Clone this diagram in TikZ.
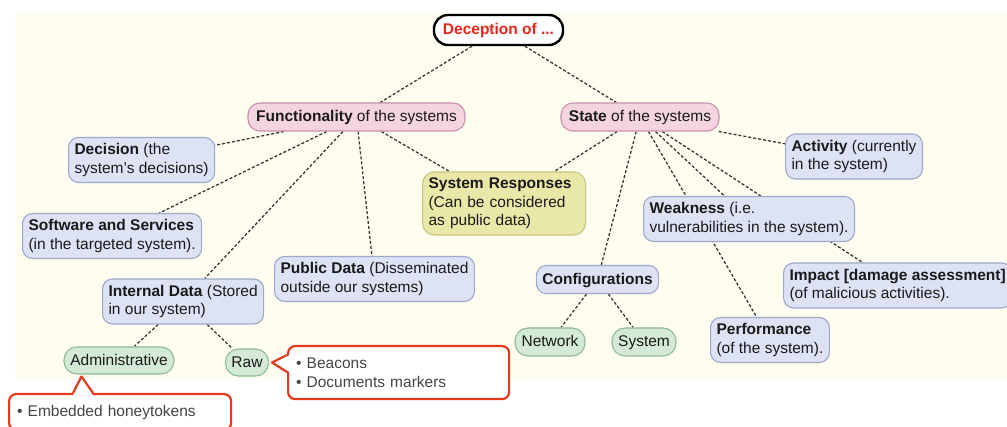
\documentclass[tikz,border=0pt]{standalone}
\usepackage{fontspec}
\setmainfont{Liberation Sans}
\usetikzlibrary{calc}

\definecolor{cream}{HTML}{FEFDEF}
\definecolor{pinkfill}{HTML}{F5D4E1}
\definecolor{pinkline}{HTML}{C98FA9}
\definecolor{bluefill}{HTML}{DDE3F5}
\definecolor{blueline}{HTML}{9DA8CB}
\definecolor{yelfill}{HTML}{EAE8A8}
\definecolor{yelline}{HTML}{C9C57E}
\definecolor{grnfill}{HTML}{D4EAD6}
\definecolor{grnline}{HTML}{8FBA96}
\definecolor{calloutred}{HTML}{E3391F}
\definecolor{titlered}{HTML}{E8261C}
\definecolor{dashgray}{HTML}{333333}
\definecolor{bodytext}{HTML}{1A1A1A}
\definecolor{notetext}{HTML}{454545}

\pgfdeclarelayer{bg}
\pgfdeclarelayer{links}
\pgfsetlayers{bg,links,main}

\begin{document}
\begin{tikzpicture}[x=1pt,y=-1pt,
  every node/.style={font=\fontsize{15.5}{18.5}\selectfont, text=bodytext},
  box/.style={draw, line width=1.1pt, rounded corners=10pt, align=left,
    inner xsep=6pt, inner ysep=6pt, minimum height=28pt},
  oneline/.style={text height=11.5pt, text depth=1.5pt},
  pinkbox/.style={box, oneline, fill=pinkfill, draw=pinkline, rounded corners=12pt},
  bluebox/.style={box, fill=bluefill, draw=blueline},
  yelbox/.style={box, fill=yelfill, draw=yelline, rounded corners=12pt},
  grnbox/.style={box, oneline, fill=grnfill, draw=grnline, rounded corners=13pt},
  rootbox/.style={oneline, draw=black, line width=2.4pt, fill=white, rounded corners=14pt,
    minimum width=129pt, minimum height=30pt, text=titlered,
    font=\fontsize{15.5}{18.5}\selectfont\bfseries},
  link/.style={draw=dashgray, line width=1.25pt, dash pattern=on 3pt off 2pt},
  note/.style={draw=calloutred, line width=2.2pt, fill=white, rounded corners=7pt,
    align=left, text=notetext, inner xsep=8pt, inner ysep=4pt},
  pointer/.style={draw=calloutred, line width=2.2pt, line join=round},
]
\useasboundingbox (0,0) rectangle (1007,427);
\clip (0,0) rectangle (1007,427);

% paper
\begin{pgfonlayer}{bg}
  \fill[cream] (15,12) rectangle (1007,378);
\end{pgfonlayer}

% root and the two main branches
\node[rootbox] (root) at (498.5,30) {Deception of ...};
\node[pinkbox, minimum width=217pt] (func) at (356.5,117) {\textbf{Functionality} of the systems};
\node[pinkbox, minimum width=158pt] (state) at (640,117) {\textbf{State} of the systems};

% functionality branch
\node[bluebox, anchor=west] (decision) at (68,160) {\textbf{Decision} (the\\system's decisions)};
\node[bluebox, anchor=west] (software) at (22,236) {\textbf{Software and Services}\\(in the targeted system).};
\node[yelbox, anchor=west, text width=151pt] (responses) at (422,203.5) {\textbf{System Responses}\\(Can be considered\\as public data)};
\node[bluebox, anchor=west] (public) at (274,279) {\textbf{Public Data} (Disseminated\\outside our systems)};
\node[bluebox, anchor=west] (internal) at (102,301.5) {\textbf{Internal Data} (Stored\\in our system)};
\node[grnbox, minimum width=110pt, minimum height=27pt] (admin) at (119,360.5) {Administrative};
\node[grnbox, minimum width=42pt, minimum height=27pt] (raw) at (247,362.5) {Raw};

% state branch
\node[bluebox, anchor=west] (activity) at (785,156.5) {\textbf{Activity} (currently\\in the system)};
\node[bluebox, anchor=west] (weakness) at (643,219) {\textbf{Weakness} (i.e.\\vulnerabilities in the system).};
\node[bluebox, oneline, minimum width=119pt, font=\fontsize{15.5}{18.5}\selectfont\bfseries] (config) at (597.5,279.5) {Configurations};
\node[bluebox, anchor=west] (impact) at (783,285.5) {\textbf{Impact [damage assessment]}\\(of malicious activities).};
\node[bluebox, anchor=west] (performance) at (710,340) {\textbf{Performance}\\(of the system).};
\node[grnbox, minimum width=70pt] (network) at (550,342) {Network};
\node[grnbox, minimum width=64pt] (system) at (644,342) {System};

% dashed links, behind the boxes
\begin{pgfonlayer}{links}
  \draw[link] (root) -- (func);
  \draw[link] (root) -- (state);
  \draw[link] (func) -- (decision);
  \draw[link] (func) -- (software);
  \draw[link] (func) -- (internal);
  \draw[link] (func) -- (public);
  \draw[link] (func) -- (responses);
  \draw[link] (state) -- (responses);
  \draw[link] (state) -- (config);
  \draw[link] (state) -- (weakness);
  \draw[link] (state) -- (performance);
  \draw[link] (state) -- (impact);
  \draw[link] (state) -- (activity);
  \draw[link] (internal) -- (admin);
  \draw[link] (internal) -- (raw);
  \draw[link] (config) -- (network);
  \draw[link] (config) -- (system);
\end{pgfonlayer}

% callout next to Raw
\node[note, anchor=north west, text width=205pt, minimum height=53pt] (beacons) at (287,345)
  {\textbullet\ Beacons\\\textbullet\ Documents markers};
\coordinate (btip) at ($(raw.east)+(3,0)$);
\coordinate (btop) at ($(beacons.north west)+(0,10)$);
\coordinate (bbot) at ($(beacons.north west)+(0,27)$);
\fill[white] ($(btop)+(2.5,0)$) -- (btip) -- ($(bbot)+(2.5,0)$) -- cycle;
\draw[pointer] (btop) -- (btip) -- (bbot);

% callout below Administrative
\node[note, anchor=north west, text width=206pt, minimum height=36pt] (honey) at (8,393)
  {\textbullet\ Embedded honeytokens};
\coordinate (htip) at ($(admin.south west)+(18,2)$);
\coordinate (hleft) at ($(honey.north west)+(65,0)$);
\coordinate (hright) at ($(honey.north west)+(85,0)$);
\fill[white] ($(hleft)+(0,2.5)$) -- (htip) -- ($(hright)+(0,2.5)$) -- cycle;
\draw[pointer] (hleft) -- (htip) -- (hright);

\end{tikzpicture}
\end{document}
